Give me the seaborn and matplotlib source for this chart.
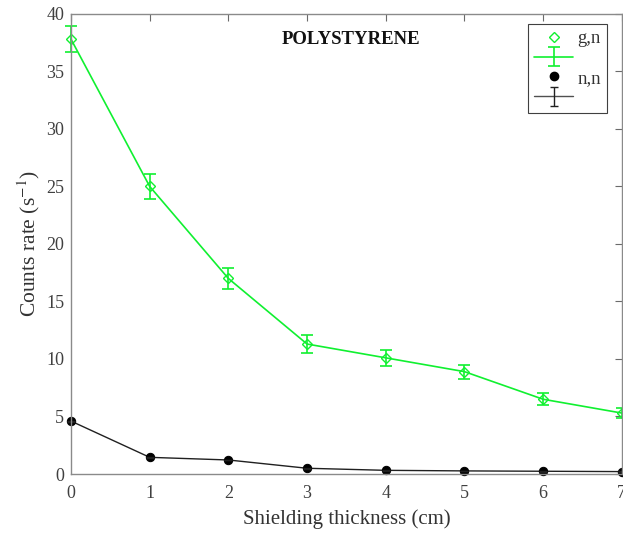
import seaborn as sns
import pandas as pd
import matplotlib.pyplot as plt
from matplotlib.lines import Line2D
from matplotlib.legend_handler import HandlerTuple

thickness = [0, 1, 2, 3, 4, 5, 6, 7]  # cm
gn_rate = [37.8, 25.0, 17.0, 11.3, 10.1, 8.9, 6.5, 5.3]
gn_err = [1.15, 1.05, 0.9, 0.75, 0.7, 0.6, 0.5, 0.45]
nn_rate = [4.6, 1.45, 1.22, 0.5, 0.32, 0.27, 0.24, 0.21]
nn_err = [0.05, 0.04, 0.04, 0.03, 0.03, 0.03, 0.03, 0.03]

GREEN = "#10f030"
GREY = "#6a6a6a"

sns.set_theme(style="white")
plt.rcParams["font.family"] = ["Liberation Serif", "DejaVu Serif"]
plt.rcParams["mathtext.fontset"] = "stix"

df = pd.DataFrame({"x": thickness, "gn": gn_rate, "nn": nn_rate})

fig = plt.figure(figsize=(6.23, 5.35), dpi=100)
ax = fig.add_axes([0.114, 0.114, 0.884, 0.86])

sns.lineplot(data=df, x="x", y="gn", color=GREEN, lw=1.2, marker="D", markersize=5,
             markerfacecolor="none", markeredgecolor=GREEN, markeredgewidth=1.0,
             clip_on=False, ax=ax)
eb_g = ax.errorbar(thickness, gn_rate, yerr=gn_err, fmt="none", ecolor=GREEN,
                   elinewidth=1.2, capsize=4, capthick=1.2, clip_on=False)
sns.lineplot(data=df, x="x", y="nn", color="#202020", lw=1.0, marker="o", markersize=6,
             markerfacecolor="black", markeredgecolor="black", clip_on=False, ax=ax)
eb_n = ax.errorbar(thickness, nn_rate, yerr=nn_err, fmt="none", ecolor="#202020",
                   elinewidth=1.0, capsize=3, capthick=1.0, clip_on=False)

ax.set_xlim(0, 7)
ax.set_ylim(0, 40)
ax.set_xticks(range(0, 8))
ax.set_yticks(range(0, 41, 5))
ax.tick_params(direction="in", length=5, width=0.8, colors=GREY, labelsize=13,
               top=True, right=True, labelcolor="#404040")
ax.tick_params(axis="x", pad=8)
ax.tick_params(axis="y", pad=5)
for s in ax.spines.values():
    s.set_color("#8a8a8a")
    s.set_linewidth(1.0)

ax.set_xlabel("Shielding thickness (cm)", fontsize=15, color="#333333", labelpad=5)
ax.set_ylabel("Counts rate (s$^{-1}$)", fontsize=15.5, color="#333333", labelpad=3)
ax.text(0.508, 0.945, "POLYSTYRENE", transform=ax.transAxes, ha="center", va="center",
        fontsize=13.5, fontweight="bold", color="#111111")

handles = [
    Line2D([], [], ls="none", marker="D", markersize=5, mfc="none", mec=GREEN),
    (Line2D([], [], color=GREEN, lw=1.2), eb_g),
    Line2D([], [], ls="none", marker="o", markersize=6, mfc="black", mec="black"),
    (Line2D([], [], color="#505050", lw=1.0), eb_n),
]
labels = ["g,n", "", "n,n", ""]
leg = ax.legend(handles, labels, loc="upper right", bbox_to_anchor=(0.9728, 0.978),
                borderaxespad=0, handler_map={tuple: HandlerTuple(ndivide=1)},
                fontsize=13.5, frameon=True, fancybox=False, edgecolor="#404040",
                framealpha=1, handlelength=2.1, borderpad=0.32, labelspacing=0.15,
                handletextpad=0.2)
leg.get_frame().set_linewidth(0.8)
for t in leg.get_texts():
    t.set_color("#333333")

fig.savefig("out.png", dpi=100)
